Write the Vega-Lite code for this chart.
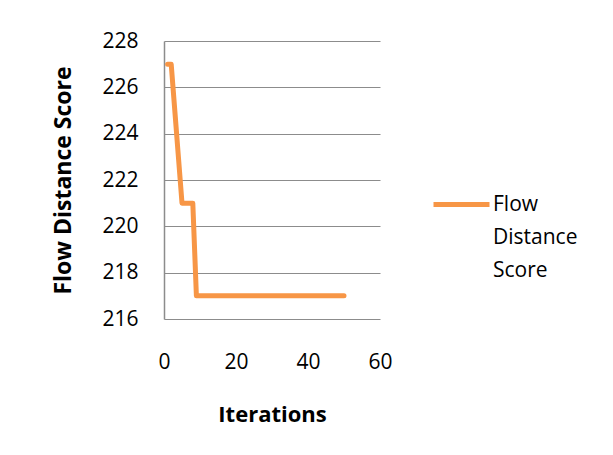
{
  "$schema": "https://vega.github.io/schema/vega-lite/v6.json",
  "width": 216,
  "height": 278,
  "autosize": {"type": "none"},
  "padding": {"left": 164, "top": 41, "right": 233, "bottom": 136},
  "background": "white",
  "config": {
    "view": {"stroke": null},
    "font": "Open Sans",
    "style": {"guide-label": {"lineHeight": 33}}
  },
  "data": {
    "values": [
      {"iteration": 1, "score": 227, "series": "Flow Distance Score"},
      {"iteration": 2, "score": 227, "series": "Flow Distance Score"},
      {"iteration": 3, "score": 225, "series": "Flow Distance Score"},
      {"iteration": 4, "score": 223, "series": "Flow Distance Score"},
      {"iteration": 5, "score": 221, "series": "Flow Distance Score"},
      {"iteration": 6, "score": 221, "series": "Flow Distance Score"},
      {"iteration": 7, "score": 221, "series": "Flow Distance Score"},
      {"iteration": 8, "score": 221, "series": "Flow Distance Score"},
      {"iteration": 9, "score": 217, "series": "Flow Distance Score"},
      {"iteration": 10, "score": 217, "series": "Flow Distance Score"},
      {"iteration": 11, "score": 217, "series": "Flow Distance Score"},
      {"iteration": 12, "score": 217, "series": "Flow Distance Score"},
      {"iteration": 13, "score": 217, "series": "Flow Distance Score"},
      {"iteration": 14, "score": 217, "series": "Flow Distance Score"},
      {"iteration": 15, "score": 217, "series": "Flow Distance Score"},
      {"iteration": 16, "score": 217, "series": "Flow Distance Score"},
      {"iteration": 17, "score": 217, "series": "Flow Distance Score"},
      {"iteration": 18, "score": 217, "series": "Flow Distance Score"},
      {"iteration": 19, "score": 217, "series": "Flow Distance Score"},
      {"iteration": 20, "score": 217, "series": "Flow Distance Score"},
      {"iteration": 21, "score": 217, "series": "Flow Distance Score"},
      {"iteration": 22, "score": 217, "series": "Flow Distance Score"},
      {"iteration": 23, "score": 217, "series": "Flow Distance Score"},
      {"iteration": 24, "score": 217, "series": "Flow Distance Score"},
      {"iteration": 25, "score": 217, "series": "Flow Distance Score"},
      {"iteration": 26, "score": 217, "series": "Flow Distance Score"},
      {"iteration": 27, "score": 217, "series": "Flow Distance Score"},
      {"iteration": 28, "score": 217, "series": "Flow Distance Score"},
      {"iteration": 29, "score": 217, "series": "Flow Distance Score"},
      {"iteration": 30, "score": 217, "series": "Flow Distance Score"},
      {"iteration": 31, "score": 217, "series": "Flow Distance Score"},
      {"iteration": 32, "score": 217, "series": "Flow Distance Score"},
      {"iteration": 33, "score": 217, "series": "Flow Distance Score"},
      {"iteration": 34, "score": 217, "series": "Flow Distance Score"},
      {"iteration": 35, "score": 217, "series": "Flow Distance Score"},
      {"iteration": 36, "score": 217, "series": "Flow Distance Score"},
      {"iteration": 37, "score": 217, "series": "Flow Distance Score"},
      {"iteration": 38, "score": 217, "series": "Flow Distance Score"},
      {"iteration": 39, "score": 217, "series": "Flow Distance Score"},
      {"iteration": 40, "score": 217, "series": "Flow Distance Score"},
      {"iteration": 41, "score": 217, "series": "Flow Distance Score"},
      {"iteration": 42, "score": 217, "series": "Flow Distance Score"},
      {"iteration": 43, "score": 217, "series": "Flow Distance Score"},
      {"iteration": 44, "score": 217, "series": "Flow Distance Score"},
      {"iteration": 45, "score": 217, "series": "Flow Distance Score"},
      {"iteration": 46, "score": 217, "series": "Flow Distance Score"},
      {"iteration": 47, "score": 217, "series": "Flow Distance Score"},
      {"iteration": 48, "score": 217, "series": "Flow Distance Score"},
      {"iteration": 49, "score": 217, "series": "Flow Distance Score"},
      {"iteration": 50, "score": 217, "series": "Flow Distance Score"}
    ]
  },
  "mark": {"type": "line", "strokeWidth": 5, "strokeCap": "round", "strokeJoin": "round"},
  "encoding": {
    "x": {
      "field": "iteration",
      "type": "quantitative",
      "scale": {"domain": [0, 60], "nice": false, "zero": false},
      "axis": {
        "values": [0, 20, 40, 60],
        "grid": false,
        "domain": false,
        "ticks": false,
        "labelPadding": 32,
        "labelFontSize": 21,
        "labelColor": "#000000",
        "labelFlush": false,
        "title": "Iterations",
        "titleFontSize": 22,
        "titleFontWeight": "bold",
        "titleColor": "#000000",
        "titlePadding": 32
      }
    },
    "y": {
      "field": "score",
      "type": "quantitative",
      "scale": {"domain": [216, 228], "nice": false, "zero": false},
      "axis": {
        "values": [216, 218, 220, 222, 224, 226, 228],
        "grid": true,
        "gridColor": "#8C8C8C",
        "gridWidth": 1.2,
        "domain": true,
        "domainColor": "#8C8C8C",
        "domainWidth": 1.5,
        "ticks": false,
        "labelPadding": 26,
        "labelFontSize": 21,
        "labelColor": "#000000",
        "labelFlush": false,
        "title": "Flow Distance Score",
        "titleFontSize": 23,
        "titleFontWeight": "bold",
        "titleColor": "#000000",
        "titlePadding": 26
      }
    },
    "color": {
      "field": "series",
      "type": "nominal",
      "scale": {"range": ["#F79646"]},
      "legend": {
        "orient": "none",
        "legendX": 267,
        "legendY": 133,
        "title": null,
        "symbolType": "stroke",
        "symbolSize": 3136,
        "symbolStrokeWidth": 5,
        "labelOffset": 1,
        "labelFontSize": 21,
        "labelColor": "#000000",
        "labelExpr": "['Flow', 'Distance', 'Score']",
        "labelLimit": 200
      }
    }
  }
}
